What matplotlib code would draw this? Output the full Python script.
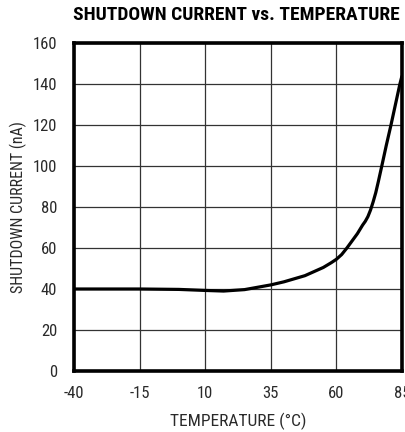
import matplotlib.pyplot as plt

# values
temp_c = [-40, -15, 0, 10, 17, 25, 35, 40, 48, 55, 58, 60, 62, 64, 66, 68, 70, 71, 72, 73,
          74, 75, 76, 77.3, 79, 80.8, 82.5, 84.2, 85]
current_na = [40, 40, 39.8, 39.3, 39.0, 39.7, 42, 43.5, 46.5, 50.5, 52.8, 54.5, 56.8, 60, 63.5,
              67, 71.2, 73.0, 75.3, 78.5, 82.5, 87, 92.5, 100, 110, 120, 130, 140, 144]

x_ticks = [-40, -15, 10, 35, 60, 85]
y_ticks = [0, 20, 40, 60, 80, 100, 120, 140, 160]

plt.rcParams['font.family'] = ['Roboto Condensed', 'DejaVu Sans']
plt.rcParams['axes.unicode_minus'] = False

fig = plt.figure(figsize=(4.05, 4.32), dpi=100)
ax = fig.add_axes([74 / 405, 61 / 432, 328 / 405, 328 / 432])

ax.plot(temp_c, current_na, color='black', lw=2.3, solid_capstyle='butt', zorder=3)

ax.set_xlim(-40, 85)
ax.set_ylim(0, 160)
ax.set_xticks(x_ticks)
ax.set_yticks(y_ticks)
ax.grid(True, color='#333333', lw=0.9)
ax.tick_params(length=0, labelsize=12, colors='#2a2a2a')
ax.tick_params(axis='y', pad=12)
ax.tick_params(axis='x', pad=11)
for s in ax.spines.values():
    s.set_linewidth(2.6)

ax.set_xlabel('TEMPERATURE (°C)', fontsize=12.5, labelpad=8, color='#2a2a2a')
ax.set_ylabel('SHUTDOWN CURRENT (nA)', fontsize=11.5, labelpad=4, color='#2a2a2a')

fig.text(73 / 405, 1 - 15 / 432, 'SHUTDOWN CURRENT vs. TEMPERATURE', fontsize=14,
         fontweight='heavy', ha='left', va='center')

fig.savefig('out.png', dpi=100)
